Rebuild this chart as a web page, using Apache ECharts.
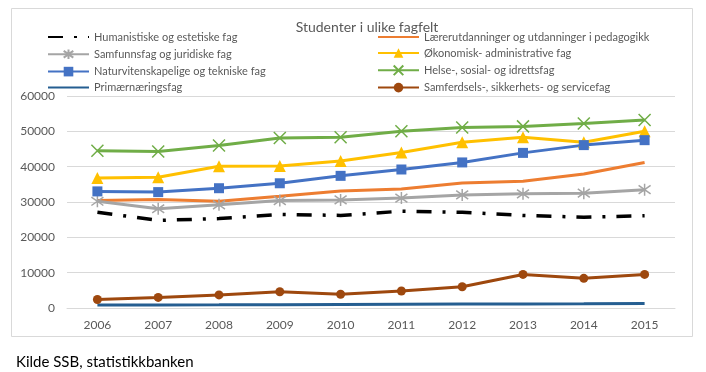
<!DOCTYPE html>
<html><head><meta charset="utf-8">
<script src="https://cdn.jsdelivr.net/npm/echarts@6/dist/echarts.min.js"></script>
<style>html,body{margin:0;padding:0;background:#fff}#c{width:706px;height:372px}</style>
</head><body><div id="c"></div>
<script>
const years = ['2006','2007','2008','2009','2010','2011','2012','2013','2014','2015'];
const humanistiske = [27100, 24800, 25300, 26500, 26200, 27400, 27100, 26200, 25700, 26100];
const laerer = [30400, 30700, 30200, 31600, 33100, 33700, 35400, 35900, 37900, 41200];
const samfunn = [30200, 28100, 29200, 30400, 30600, 31100, 32000, 32300, 32500, 33500];
const okonomisk = [36800, 37000, 40100, 40200, 41600, 44000, 46900, 48300, 46900, 50000];
const naturvit = [33000, 32800, 33900, 35300, 37400, 39200, 41200, 43900, 46100, 47500];
const helse = [44500, 44300, 46000, 48100, 48300, 50000, 51100, 51400, 52200, 53200];
const primaer = [850, 880, 900, 950, 1000, 1050, 1100, 1150, 1200, 1300];
const samferdsel = [2400, 3000, 3700, 4600, 3900, 4800, 6000, 9500, 8400, 9500];

const names = {
  hum: 'Humanistiske og estetiske fag',
  lae: 'Lærerutdanninger og utdanninger i pedagogikk',
  sam: 'Samfunnsfag og juridiske fag',
  oko: 'Økonomisk- administrative fag',
  nat: 'Naturvitenskapelige og tekniske fag',
  hel: 'Helse-, sosial- og idrettsfag',
  pri: 'Primærnæringsfag',
  sf: 'Samferdsels-, sikkerhets- og servicefag'
};
const FONT = 'Lato';
const starPath = 'path://M5,0 L5,10 M1.5,1.5 L8.5,8.5 M8.5,1.5 L1.5,8.5';
const xPath = 'path://M0,0 L10,10 M10,0 L0,10';

function s(name, data, color, extra) {
  return Object.assign({
    type: 'line', name: name, data: data,
    lineStyle: { color: color, width: 3 },
    itemStyle: { color: color },
    symbol: 'none',
    emphasis: { disabled: true },
    z: 2
  }, extra || {});
}
const noMark = { opacity: 0 };
const legText = { fontFamily: FONT, fontSize: 11, lineHeight: 12, color: '#595959' };

const chart = echarts.init(document.getElementById('c'), null, { renderer: 'canvas' });
chart.setOption({
  animation: false,
  backgroundColor: '#fff',
  title: [
    { text: 'Studenter i ulike fagfelt', left: 362, top: 15, textAlign: 'center',
      textStyle: { fontFamily: FONT, fontSize: 14, fontWeight: 'normal', color: '#595959' } },
    { text: 'Kilde SSB, statistikkbanken', left: 11, top: 350,
      textStyle: { fontFamily: FONT, fontSize: 15, fontWeight: 'normal', color: '#000' } }
  ],
  graphic: [
    { type: 'rect', shape: { x: 11.5, y: 8.5, width: 681, height: 328 },
      style: { fill: 'none', stroke: '#D9D9D9', lineWidth: 1 }, z: -1 }
  ],
  legend: [
    { orient: 'vertical', left: 47, top: 31, itemWidth: 41, itemHeight: 12, itemGap: 4, padding: 0,
      data: [{ name: names.hum, itemStyle: noMark }, names.sam, names.nat, { name: names.pri, itemStyle: noMark }],
      textStyle: legText },
    { orient: 'vertical', left: 377, top: 31, itemWidth: 41, itemHeight: 12, itemGap: 4, padding: 0,
      data: [{ name: names.lae, itemStyle: noMark }, names.oko, names.hel, names.sf],
      textStyle: legText }
  ],
  grid: { left: 67, right: 31, top: 96, bottom: 64 },
  xAxis: {
    type: 'category', data: years, boundaryGap: true,
    axisLine: { lineStyle: { color: '#D9D9D9' } },
    axisTick: { show: false },
    axisLabel: { fontFamily: FONT, fontSize: 12, color: '#595959', margin: 11 }
  },
  yAxis: {
    type: 'value', min: 0, max: 60000, interval: 10000,
    axisLine: { show: false }, axisTick: { show: false },
    splitLine: { lineStyle: { color: '#D9D9D9' } },
    axisLabel: { fontFamily: FONT, fontSize: 12, color: '#595959', margin: 12, formatter: v => String(v) }
  },
  series: [
    s(names.hum, humanistiske, '#000000', { lineStyle: { color: '#000', width: 3.5, type: [15, 11, 3, 11] } }),
    s(names.lae, laerer, '#ED7D31'),
    s(names.sam, samfunn, '#A5A5A5', { symbol: starPath, symbolSize: 12,
      itemStyle: { color: 'none', borderColor: '#A5A5A5', borderWidth: 1.5 } }),
    s(names.oko, okonomisk, '#FFC000', { symbol: 'triangle', symbolSize: 12 }),
    s(names.nat, naturvit, '#4472C4', { symbol: 'rect', symbolSize: 10 }),
    s(names.hel, helse, '#70AD47', { symbol: xPath, symbolSize: 12,
      itemStyle: { color: 'none', borderColor: '#70AD47', borderWidth: 1.5 } }),
    s(names.pri, primaer, '#255E91'),
    s(names.sf, samferdsel, '#9E480E', { symbol: 'circle', symbolSize: 9 })
  ]
});
</script>
</body></html>
